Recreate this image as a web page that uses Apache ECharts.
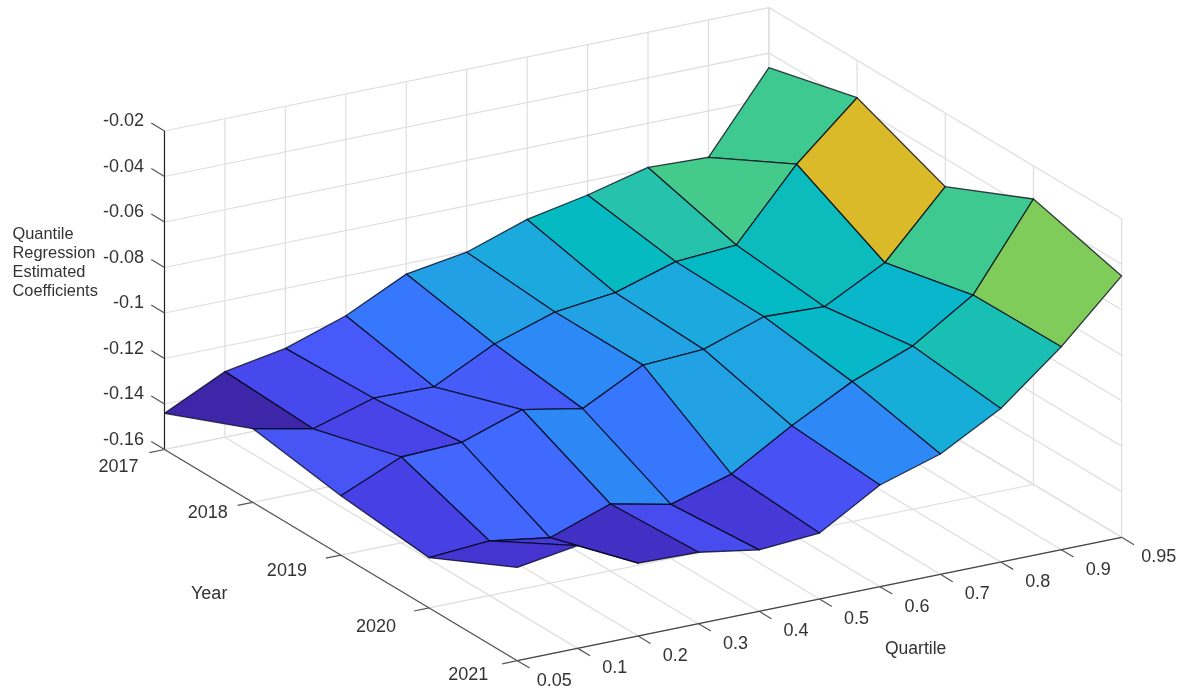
<!DOCTYPE html>
<html>
<head>
<meta charset="utf-8">
<style>html,body{margin:0;padding:0;background:#fff}#chart{width:1189px;height:690px}</style>
<script src="https://cdn.jsdelivr.net/npm/echarts@6/dist/echarts.min.js"></script>
</head>
<body>
<div id="chart"></div>
<script>
// ---------- data ----------
const quartiles = ['0.05','0.1','0.2','0.3','0.4','0.5','0.6','0.7','0.8','0.9','0.95'];
const years = ['2017','2018','2019','2020','2021'];
const zTicks = [-0.16,-0.14,-0.12,-0.1,-0.08,-0.06,-0.04,-0.02];
const zTickLabels = ['-0.16','-0.14','-0.12','-0.1','-0.08','-0.06','-0.04','-0.02'];
const coef2017 = [-0.1441,-0.1312,-0.1264,-0.1175,-0.1046,-0.1004,-0.0914,-0.0861,-0.0794,-0.0804,-0.0464];
const coef2018 = [-0.1276,-0.1331,-0.1251,-0.1255,-0.1121,-0.1035,-0.1004,-0.0922,-0.0903,-0.0602,-0.0364];
const coef2019 = [-0.1339,-0.1223,-0.1213,-0.1123,-0.1173,-0.1036,-0.1021,-0.0932,-0.0942,-0.0803,-0.0523];
const coef2020 = [-0.1379,-0.1360,-0.1400,-0.1306,-0.1362,-0.1283,-0.1125,-0.0985,-0.0883,-0.0713,-0.0345];
const coef2021 = [-0.1190,-0.1148,-0.1280,-0.1286,-0.1330,-0.1310,-0.1153,-0.1071,-0.0925,-0.0708,-0.0451];
const surface = [coef2017, coef2018, coef2019, coef2020, coef2021];

// ---------- style ----------
const parula = ['#3E26A8','#4332CB','#4741E5','#4852F4','#4563FD','#3875FE','#2E87F7','#2796EB','#20A5E3','#12B1D6','#02BAC3','#24C1AE','#37C897','#57CC7A','#81CC59','#ABC739','#D9BA28','#EEBE35','#FFC337','#F5D229','#F5E524','#F9FB15'];
const FONT = '"Liberation Sans", Arial, sans-serif';
const TEXT = '#333333';
const GRID = '#dedede';
const yearLabelOffset = [[-46,18],[-45,11],[-54,16],[-53,19],[-49,14]];
const quartileLabelOffset = [37,20];

// oblique view: one quartile step and one year step in axis units
const YEAR_X = 1.4593, QUART_Y = 0.005424, YEAR_Y = -0.023209;
const zMin = -0.16, zMax = -0.02, lastI = quartiles.length - 1, lastJ = years.length - 1;

function proj(api, i, j, z) {
  return api.coord([i + YEAR_X * j, z + QUART_Y * i + YEAR_Y * j]);
}

// reference lines on walls and floor: [i1,j1,z1,i2,j2,z2]
const gridLines = [];
quartiles.forEach((_, i) => {
  gridLines.push([i,0,zMin,i,lastJ,zMin]);
  gridLines.push([i,0,zMin,i,0,zMax]);
});
years.forEach((_, j) => {
  gridLines.push([0,j,zMin,lastI,j,zMin]);
  gridLines.push([lastI,j,zMin,lastI,j,zMax]);
});
zTicks.forEach(z => {
  gridLines.push([0,0,z,lastI,0,z]);
  gridLines.push([lastI,0,z,lastI,lastJ,z]);
});

// axis lines and ticks
const axisLines = [
  [0,0,zMin,0,0,zMax,'#222'],
  [0,0,zMin,0,lastJ,zMin,'#555'],
  [0,lastJ,zMin,lastI,lastJ,zMin,'#444']
];
zTicks.forEach(z => axisLines.push([0,0,z,0,-0.15,z,'#555']));
years.forEach((_, j) => axisLines.push([0,j,zMin,-0.25,j,zMin,'#555']));
quartiles.forEach((_, i) => axisLines.push([i,lastJ,zMin,i,lastJ+0.14,zMin,'#555']));

// tick labels: [i,j,z,dx,dy,align,text]
const labels = [];
zTicks.forEach((z, k) => labels.push([0,0,z,-20.5,-9.5,'right',zTickLabels[k]]));
years.forEach((y, j) => labels.push([0,j,zMin,yearLabelOffset[j][0],yearLabelOffset[j][1],'center',y]));
quartiles.forEach((q, i) => labels.push([i,lastJ,zMin,quartileLabelOffset[0],quartileLabelOffset[1],'center',q]));

// faces, back to front; each is coloured by its first vertex
const faces = [];
for (let j = 0; j < lastJ; j++) {
  for (let i = lastI - 1; i >= 0; i--) faces.push([i, j, surface[j][i]]);
}
const allZ = surface.flat();

function renderSegments(list, colorOf, width) {
  return function (params, api) {
    const s = list[params.dataIndex];
    const a = proj(api, s[0], s[1], s[2]);
    const b = proj(api, s[3], s[4], s[5]);
    return {type:'line', shape:{x1:a[0],y1:a[1],x2:b[0],y2:b[1]},
      style:{stroke:colorOf(s), lineWidth:width, fill:null}, silent:true};
  };
}

const chart = echarts.init(document.getElementById('chart'));
chart.setOption({
  animation:false,
  backgroundColor:'#ffffff',
  grid:{left:0,right:0,top:0,bottom:0},
  xAxis:{type:'value',min:-2.7217,max:16.951,show:false},
  yAxis:{type:'value',min:-0.26571,max:0.03758,show:false},
  visualMap:{show:false,type:'continuous',seriesIndex:1,dimension:2,
    min:Math.min(...allZ),max:Math.max(...allZ),inRange:{color:parula}},
  series:[
    {type:'custom',clip:false,silent:true,z:1,
      data:gridLines.map((s,k)=>[k,0]),
      renderItem:renderSegments(gridLines,()=>GRID,1.2)},
    {type:'custom',clip:false,silent:true,z:2,
      data:faces,
      encode:{x:0,y:2},
      renderItem:function(params,api){
        const i=api.value(0), j=api.value(1);
        const pts=[[i,j],[i+1,j],[i+1,j+1],[i,j+1]].map(p=>proj(api,p[0],p[1],surface[p[1]][p[0]]));
        return {type:'polygon',shape:{points:pts},
          style:{fill:api.visual('color'),stroke:'rgba(0,0,20,0.75)',lineWidth:1.3,lineJoin:'round'},silent:true};
      }},
    {type:'custom',clip:false,silent:true,z:3,
      data:axisLines.map((s,k)=>[k,0]),
      renderItem:renderSegments(axisLines,s=>s[6],1.2)},
    {type:'custom',clip:false,silent:true,z:4,
      data:labels.map((s,k)=>[k,0]),
      renderItem:function(params,api){
        const l=labels[params.dataIndex];
        const p=proj(api,l[0],l[1],l[2]);
        return {type:'text',style:{x:p[0]+l[3],y:p[1]+l[4],text:l[6],align:l[5],verticalAlign:'middle',
          fill:TEXT,font:'18px '+FONT},silent:true};
      }}
  ],
  graphic:[
    {type:'text',left:12.5,top:225,silent:true,style:{text:'Quantile\nRegression\nEstimated\nCoefficients',
      fill:TEXT,font:'16.4px '+FONT,lineHeight:19}},
    {type:'text',left:885,top:640,silent:true,style:{text:'Quartile',fill:TEXT,font:'17.5px '+FONT}},
    {type:'text',left:191,top:585,silent:true,style:{text:'Year',fill:TEXT,font:'18px '+FONT}}
  ]
});
</script>
</body>
</html>
